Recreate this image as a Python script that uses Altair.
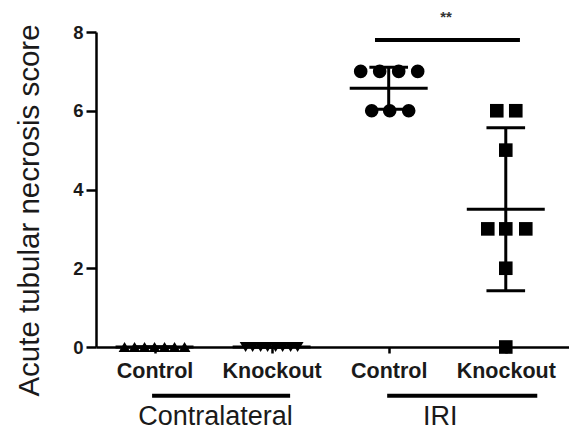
import altair as alt
import pandas as pd
import numpy as np

# ---- data ----
conditions = ["Control", "Knockout", "Control", "Knockout"]
group_names = ["Contralateral", "IRI"]
centers = [0.5, 1.5, 2.5, 3.5]
shapes = ["triangle-up", "triangle-down", "circle", "square"]

contra_control = [0, 0, 0, 0, 0, 0, 0]
contra_knockout = [0, 0, 0, 0, 0, 0, 0, 0]
iri_control = [7, 7, 7, 7, 6, 6, 6]
iri_knockout = [6, 6, 5, 3, 3, 3, 2, 0]

# horizontal scatter of the points (pixels), as seen in the picture
jit_contra_control = [-30, -20, -10, 0, 10, 20, 30]
jit_contra_knockout = [-26, -19, -11, -4, 4, 11, 19, 26]
jit_iri_control = [-28, -9, 10, 29, -17, 1, 20]
jit_iri_knockout = [-9, 10, 0, -18, 0, 20, 0, 0]

series = [contra_control, contra_knockout, iri_control, iri_knockout]
jitters = [jit_contra_control, jit_contra_knockout, jit_iri_control, jit_iri_knockout]

W, H = 473, 315
XMAX = 4.04
PX = W / XMAX  # pixels per x unit

rows = []
for i, (vals, jit) in enumerate(zip(series, jitters)):
    for v, j in zip(vals, jit):
        rows.append({"x": centers[i] + j / PX, "y": v, "shape": shapes[i], "g": i})
pts = pd.DataFrame(rows)

stats = []
for i, vals in enumerate(series):
    a = np.array(vals, dtype=float)
    m = a.mean()
    sd = a.std(ddof=1)
    c = centers[i]
    stats.append({"c": c, "m": m, "lo": m - sd, "hi": m + sd,
                  "ml": c - 0.333, "mr": c + 0.333, "cl": c - 0.165, "cr": c + 0.165})
st = pd.DataFrame(stats)

xs = alt.Scale(domain=[0, XMAX], nice=False, zero=False)
ys = alt.Scale(domain=[0, 8], nice=False)

label_expr = "[" + ",".join("'%s'" % c for c in conditions) + "][floor(datum.value)]"

base_x = alt.X("x:Q", scale=xs, axis=alt.Axis(values=centers, labelExpr=label_expr, title=None,
                                               labelFontSize=21.5, labelFontWeight="bold",
                                               labelColor="#1a1a1a", tickSize=6, tickWidth=2.5,
                                               domainWidth=2.5, domainColor="black", tickColor="black",
                                               labelPadding=7, grid=False,
                                               labelFont="Liberation Sans"))
base_y = alt.Y("y:Q", scale=ys, axis=alt.Axis(values=[0, 2, 4, 6, 8], title="Acute tubular necrosis score",
                                               titleFontSize=29.5, titleFontWeight="normal",
                                               titleColor="#1a1a1a", titleFont="Liberation Sans",
                                               titleX=-67, titleY=178, titleAngle=-90,
                                               titleAlign="center", titleBaseline="middle",
                                               labelFontSize=18.5, labelFontWeight="bold",
                                               labelColor="#1a1a1a", labelFont="Liberation Sans",
                                               tickSize=10, tickWidth=2.5, domainWidth=2.5,
                                               domainColor="black", tickColor="black",
                                               labelPadding=3, grid=False))

# empty layer that carries both axes
axes_layer = alt.Chart(pd.DataFrame({"x": [0], "y": [0]})).mark_point(opacity=0).encode(x=base_x, y=base_y)

mean_line = alt.Chart(st).mark_rule(color="black", strokeWidth=3).encode(
    x=alt.X("ml:Q", scale=xs), x2="mr:Q", y=alt.Y("m:Q", scale=ys))
vert = alt.Chart(st).mark_rule(color="black", strokeWidth=3).encode(
    x=alt.X("c:Q", scale=xs), y=alt.Y("lo:Q", scale=ys), y2="hi:Q")
cap_hi = alt.Chart(st).mark_rule(color="black", strokeWidth=3).encode(
    x=alt.X("cl:Q", scale=xs), x2="cr:Q", y=alt.Y("hi:Q", scale=ys))
cap_lo = alt.Chart(st).mark_rule(color="black", strokeWidth=3).encode(
    x=alt.X("cl:Q", scale=xs), x2="cr:Q", y=alt.Y("lo:Q", scale=ys))

tri = alt.Chart(pts[pts["g"] < 2]).mark_point(filled=True, color="black", opacity=1, size=140).encode(
    x=alt.X("x:Q", scale=xs), y=alt.Y("y:Q", scale=ys),
    shape=alt.Shape("shape:N", scale=None))
big = alt.Chart(pts[pts["g"] >= 2]).mark_point(filled=True, color="black", opacity=1, size=185).encode(
    x=alt.X("x:Q", scale=xs), y=alt.Y("y:Q", scale=ys),
    shape=alt.Shape("shape:N", scale=None))

# significance bar
sig = pd.DataFrame({"x1": [2.383], "x2": [3.621], "y": [7.8], "tx": [2.99], "ty": [8.38], "t": ["**"]})
sig_rule = alt.Chart(sig).mark_rule(color="black", strokeWidth=4).encode(
    x=alt.X("x1:Q", scale=xs), x2="x2:Q", y=alt.Y("y:Q", scale=ys))
sig_text = alt.Chart(sig).mark_text(fontSize=15, fontWeight="bold", color="#333",
                                    font="Liberation Sans", baseline="middle").encode(
    x=alt.X("tx:Q", scale=xs), y=alt.Y("ty:Q", scale=ys), text="t:N")

# group underlines and labels
grp = pd.DataFrame({"name": group_names, "x1": [0.479, 2.487], "x2": [1.658, 3.769],
                    "xm": [1.02, 2.94], "y": [-1.24, -1.24], "ly": [-1.78, -1.78]})
grp_rule = alt.Chart(grp).mark_rule(color="black", strokeWidth=4).encode(
    x=alt.X("x1:Q", scale=xs), x2="x2:Q", y=alt.Y("y:Q", scale=ys))
grp_text = alt.Chart(grp).mark_text(fontSize=27, color="#1a1a1a", font="Liberation Sans",
                                    baseline="middle").encode(
    x=alt.X("xm:Q", scale=xs), y=alt.Y("ly:Q", scale=ys), text="name:N")

chart = alt.layer(axes_layer, mean_line, vert, cap_hi, cap_lo, tri, big, sig_rule, sig_text,
                  grp_rule, grp_text).properties(
    width=W, height=H,
    autosize=alt.AutoSizeParams(type="none"),
    padding={"left": 96, "top": 32, "right": 0, "bottom": 90},
    background="white",
).configure_view(stroke=None)

chart.save("out.html", embed_options={"renderer": "svg", "actions": False})
